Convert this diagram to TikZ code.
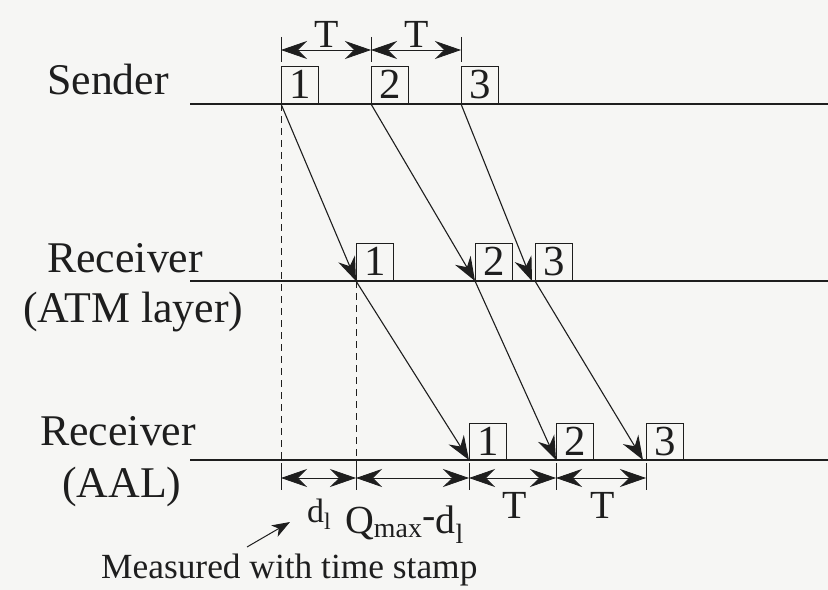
\documentclass[tikz,border=0pt]{standalone}
\usepackage{fontspec}
\setmainfont{Liberation Serif}
\usetikzlibrary{arrows.meta}
\definecolor{ink}{RGB}{30,30,30}
\definecolor{paper}{RGB}{246,246,244}
\begin{document}
\begin{tikzpicture}[x=1bp,y=-1bp,
  lbl/.style={font=\fontsize{44}{48}\selectfont, text=ink, inner sep=0pt},
  dimlbl/.style={font=\fontsize{40}{44}\selectfont, text=ink, inner sep=0pt},
  cell/.style={draw=ink, line width=1.4bp, minimum width=37bp, minimum height=37bp,
    inner sep=0pt, anchor=south west, font=\fontsize{43}{43}\selectfont, text=ink},
  timeline/.style={draw=ink, line width=2.6bp},
  hop/.style={draw=ink, line width=1.1bp, -{Stealth[length=24bp,width=18bp,inset=8bp]}},
  dimline/.style={draw=ink, line width=0.8bp,
    {Stealth[length=26bp,width=18bp,inset=9bp]}-{Stealth[length=26bp,width=18bp,inset=9bp]}},
  tickmark/.style={draw=ink, line width=0.8bp},
  guide/.style={draw=ink, line width=0.9bp, dash pattern=on 7bp off 5bp}]

\fill[paper] (0,0) rectangle (828,590);
\useasboundingbox (0,0) rectangle (828,590);

% row labels
\node[lbl, anchor=base west] (snd)  at (47,95)  {Sender};
\node[lbl, anchor=base west] (atm)  at (47,272) {Receiver};
\node[lbl, anchor=base west] (atmb) at (23,322) {(ATM layer)};
\node[lbl, anchor=base west] (aal)  at (40,445) {Receiver};
\node[lbl, anchor=base west] (aalb) at (62,497) {(AAL)};

% time lines
\coordinate (sL) at (190,104); \coordinate (sR) at (828,104);
\coordinate (aL) at (190,281); \coordinate (aR) at (828,281);
\coordinate (rL) at (190,460); \coordinate (rR) at (828,460);
\draw[timeline] (sL) -- (sR);
\draw[timeline] (aL) -- (aR);
\draw[timeline] (rL) -- (rR);

% cells on each line
\node[cell] (s1) at (281,104) {1};
\node[cell] (s2) at (371,104) {2};
\node[cell] (s3) at (461,104) {3};
\node[cell] (a1) at (356,281) {1};
\node[cell] (a2) at (475,281) {2};
\node[cell] (a3) at (535,281) {3};
\node[cell, minimum height=36bp] (r1) at (469,460) {1};
\node[cell, minimum height=36bp] (r2) at (556,460) {2};
\node[cell, minimum height=36bp] (r3) at (646,460) {3};

% transfers between the lines
\draw[hop] (s1.south west) -- (a1.south west);
\draw[hop] (s2.south west) -- (a2.south west);
\draw[hop] (s3.south west) -- ([xshift=-3bp]a3.south west);
\draw[hop] (a1.south west) -- (r1.south west);
\draw[hop] (a2.south west) -- (r2.south west);
\draw[hop] (a3.south west) -- ([xshift=-3bp]r3.south west);

% guides down to the bottom dimensions
\coordinate (g0) at (281,465);
\coordinate (g1) at (356,465);
\draw[guide] (s1.south west) -- (g0);
\draw[guide] (a1.south west) -- (g1);

% sending period at the top
\foreach \x/\n in {281/u0,371/u1,461/u2}{
  \coordinate (\n) at (\x,50);
  \draw[tickmark] (\x,37) -- (\x,62);
}
\draw[dimline] (u0) -- (u1);
\draw[dimline] (u1) -- (u2);
\node[dimlbl, anchor=base] (tt1) at (327,48) {T};
\node[dimlbl, anchor=base] (tt2) at (417,48) {T};

% delays at the bottom
\foreach \x/\n in {281/b0,356/b1,469/b2,556/b3,646/b4}{
  \coordinate (\n) at (\x,478);
  \draw[tickmark] (\x,463) -- (\x,490);
}
\draw[dimline] (b0) -- (b1);
\draw[dimline] (b1) -- (b2);
\draw[dimline] (b2) -- (b3);
\draw[dimline] (b3) -- (b4);
\node[dimlbl, anchor=base] (bt1) at (515,518) {T};
\node[dimlbl, anchor=base] (bt2) at (603,518) {T};
\node[font=\fontsize{34}{36}\selectfont, text=ink, inner sep=0pt, anchor=base west]
  (dl) at (307,522) {d\textsubscript{l}};
\node[font=\fontsize{40}{42}\selectfont, text=ink, inner sep=0pt, anchor=base west]
  (qd) at (345,533) {Q\textsubscript{max}\raisebox{5bp}{-}d\textsubscript{l}};

% time stamp note
\node[font=\fontsize{35.5}{40}\selectfont, text=ink, inner sep=0pt, anchor=base west]
  (note) at (101,578) {Measured with time stamp};
\coordinate (nt) at (247,547);
\coordinate (nh) at (290,522);
\draw[draw=ink, line width=1bp, -{Stealth[length=18bp,width=13bp,inset=5bp]}] (nt) -- (nh);
\end{tikzpicture}
\end{document}
